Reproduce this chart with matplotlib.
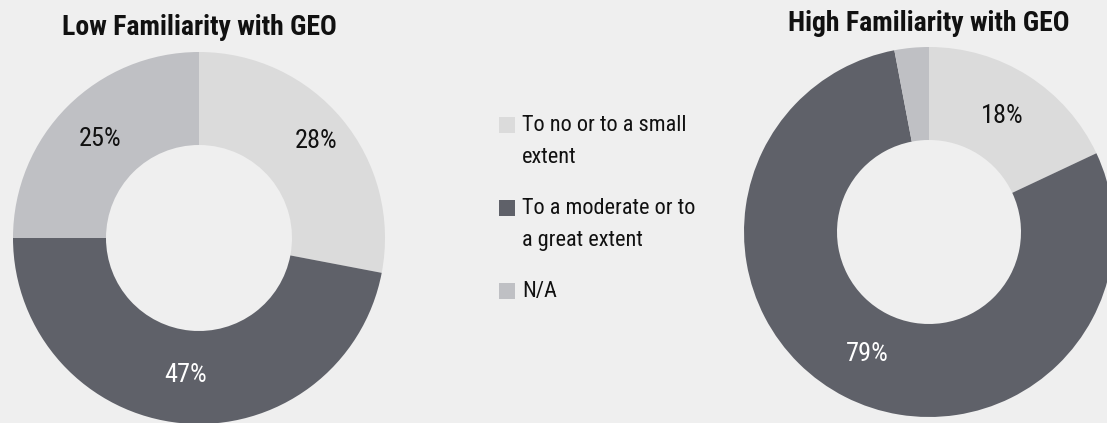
import numpy as np
import matplotlib
matplotlib.use("Agg")
import matplotlib.pyplot as plt
from matplotlib import font_manager
from matplotlib.patches import Rectangle

# survey shares, clockwise from 12 o'clock
categories = ["To no or to a small\nextent", "To a moderate or to\na great extent", "N/A"]
low_values = [28, 47, 25]
high_values = [18, 79, 3]
low_title = "Low Familiarity with GEO"
high_title = "High Familiarity with GEO"

colors = ["#dbdbdb", "#5f6169", "#bfc0c4"]
label_colors = ["#111111", "#ffffff", "#111111"]
BG = "#efefef"


def pick_font(cands):
    names = {f.name for f in font_manager.fontManager.ttflist}
    for c in cands:
        if c in names:
            return c
    return "DejaVu Sans"


FONT = pick_font(["Liberation Sans Narrow", "DejaVu Sans Condensed", "Roboto Condensed", "DejaVu Sans"])
plt.rcParams["font.family"] = [FONT, "DejaVu Sans"]

W, H = 1107, 423
fig = plt.figure(figsize=(W / 100, H / 100), dpi=100, facecolor=BG)
ax = fig.add_axes([0, 0, 1, 1])
ax.set_facecolor(BG)


def donut(values, cx, cy, r, hole, title, title_y, label_r):
    wedges, _ = ax.pie(values, colors=colors, startangle=90, counterclock=False,
                       center=(cx, H - cy), radius=r,
                       wedgeprops=dict(width=r - hole, linewidth=0))
    for w, v, c, f in zip(wedges, values, label_colors, label_r):
        if f is None:
            continue
        a = np.deg2rad((w.theta1 + w.theta2) / 2)
        ax.text(cx + f * r * np.cos(a), H - cy + f * r * np.sin(a), f"{v}%",
                ha="center", va="center", fontsize=19, color=c)
    ax.text(cx, H - title_y, title, ha="center", va="center",
            fontsize=20, fontweight="bold", color="#111111")


donut(low_values, 199, 238, 186, 93, low_title, 27, [0.82, 0.74, 0.75])
donut(high_values, 929, 232, 185, 92, high_title, 23, [0.74, 0.74, None])

# legend drawn by hand: square swatch + wrapped label
leg_x, leg_y0, leg_step = 499, 125, 83
for i, (lab, col) in enumerate(zip(categories, colors)):
    y = leg_y0 + i * leg_step
    ax.add_patch(Rectangle((leg_x, H - y - 8), 16, 16, color=col, lw=0))
    ax.text(leg_x + 23, H - y + 10, lab, ha="left", va="top", fontsize=16,
            color="#111111", linespacing=1.7)

ax.set_xlim(0, W)
ax.set_ylim(0, H)
ax.set_aspect("equal")
ax.axis("off")

fig.savefig("out.png", dpi=100, facecolor=BG)
